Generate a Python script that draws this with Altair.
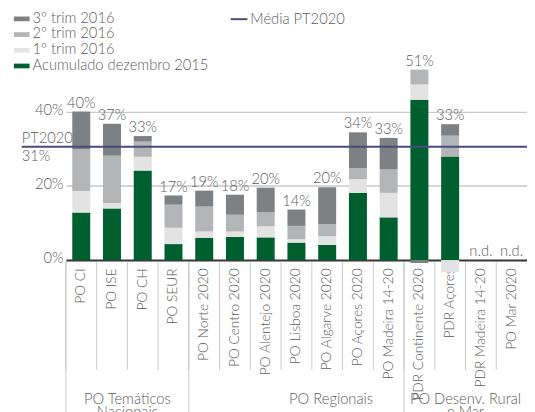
import altair as alt
import pandas as pd

categories = ["PO CI", "PO ISE", "PO CH", "PO SEUR", "PO Norte 2020", "PO Centro 2020",
              "PO Alentejo 2020", "PO Lisboa 2020", "PO Algarve 2020", "PO Açores 2020",
              "PO Madeira 14-20", "PDR Continente 2020", "PDR Açores", "PDR Madeira 14-20",
              "PO Mar 2020"]
acumulado = [12.8, 13.9, 24.1, 4.3, 6.0, 6.2, 6.1, 4.7, 4.1, 18.1, 11.5, 43.2, 27.9, 0, 0]
trim1 = [5.8, 1.4, 3.7, 4.4, 1.7, 1.5, 3.0, 0.9, 2.3, 3.7, 6.6, 4.1, -3.3, 0, 0]
trim2 = [11.2, 12.8, 4.1, 6.2, 6.7, 4.5, 3.8, 3.6, 3.3, 2.9, 6.3, 4.0, 5.6, 0, 0]
trim3 = [10.2, 8.6, 1.5, 2.5, 4.3, 5.4, 6.6, 4.4, 9.9, 9.7, 8.5, -0.8, 3.1, 0, 0]
total_labels = ["40%", "37%", "33%", "17%", "19%", "18%", "20%", "14%", "20%", "34%",
                "33%", "51%", "33%", "n.d.", "n.d."]
series_names = ["Acumulado dezembro 2015", "1º trim 2016", "2º trim 2016", "3º trim 2016"]
series_colors = ["#005f2f", "#e3e3e3", "#b3b5b7", "#7e8184"]
group_names = ["PO Temáticos\nNacionais", "PO Regionais", "PO Desenv. Rural\ne Mar"]
group_first = ["PO CI", "PO Norte 2020", "PDR Continente 2020"]
pt2020_avg = 30.5
pt2020_name = "Média PT2020"
pt2020_texts = ["PT2020", "31%"]

FONT = "Lato"
TXT = "#5c5c5c"
W, H = 470, 227
STEP = W / len(categories)
PI = 0.415
GAP = STEP * PI

rows = []
for i, c in enumerate(categories):
    for k, (s, vals) in enumerate(zip(series_names, [acumulado, trim1, trim2, trim3])):
        if vals[i] != 0:
            rows.append({"cat": c, "serie": s, "val": vals[i], "ord": k})
bars_df = pd.DataFrame(rows)

tops = []
for i, c in enumerate(categories):
    pos = sum(v for v in [acumulado[i], trim1[i], trim2[i], trim3[i]] if v > 0)
    tops.append({"cat": c, "top": pos, "lab": total_labels[i]})
tops_df = pd.DataFrame(tops)

cats_df = pd.DataFrame({"cat": categories})
grp_df = pd.DataFrame({"cat": group_first})
line_df = pd.DataFrame({"serie": [pt2020_name], "val": [pt2020_avg]})

xscale = alt.Scale(domain=categories, paddingInner=PI, paddingOuter=PI / 2)
yscale = alt.Scale(domain=[0, 60], nice=False)
X = alt.X("cat:N", scale=xscale, sort=categories,
          axis=alt.Axis(title=None, ticks=False, domain=True, domainColor="#3a3a3a",
                        domainWidth=2, labelAngle=-90, labelFontSize=14, labelFont=FONT,
                        labelColor=TXT, labelPadding=8, labelFontWeight=300, labelLimit=0))

bars = alt.Chart(bars_df).mark_bar().encode(
    x=X,
    y=alt.Y("val:Q", stack="zero", scale=yscale,
            axis=alt.Axis(title=None, values=[0, 20, 40], labelExpr="datum.value + '%'",
                          domain=False, ticks=False, grid=True, gridColor="#c9c9c9",
                          gridWidth=1.5, labelFontSize=15, labelFont=FONT, labelColor=TXT,
                          labelPadding=3, labelFontWeight=300, labelOffset=-2)),
    color=alt.Color("serie:N",
                    scale=alt.Scale(domain=series_names, range=series_colors),
                    sort=series_names[::-1],
                    legend=alt.Legend(title=None, orient="none", legendX=-53, legendY=-28,
                                      symbolType="M-1,-0.15H1V0.45H-1Z", symbolSize=256,
                                      symbolStrokeWidth=0, labelFontSize=15, labelFont=FONT,
                                      labelColor=TXT, labelFontWeight=300, rowPadding=-2,
                                      padding=0, labelOffset=3, labelLimit=0,
                                      values=series_names[::-1])),
    order=alt.Order("ord:Q", sort="ascending"),
)

seps = alt.Chart(cats_df).mark_rule(color="#c9c9c9", strokeWidth=1, xOffset=-GAP / 2).encode(
    x=alt.X("cat:N", scale=xscale, sort=categories, bandPosition=0),
    y=alt.value(H + 2), y2=alt.value(339),
)
gseps = alt.Chart(grp_df).mark_rule(color="#c9c9c9", strokeWidth=1, xOffset=-GAP / 2).encode(
    x=alt.X("cat:N", scale=xscale, sort=categories, bandPosition=0),
    y=alt.value(H + 2), y2=alt.value(420),
)

pt_line = alt.Chart(line_df).mark_rule(strokeWidth=2).encode(
    y=alt.Y("val:Q", scale=yscale),
    x=alt.value(-45), x2=alt.value(W),
    stroke=alt.Stroke("serie:N", scale=alt.Scale(domain=[pt2020_name], range=["#4b4a7c"]),
                      legend=alt.Legend(title=None, orient="none", legendX=167, legendY=-28,
                                        symbolType="stroke", symbolSize=289,
                                        symbolStrokeWidth=2, labelFontSize=15, labelFont=FONT,
                                        labelColor=TXT, labelFontWeight=300, padding=0,
                                        labelOffset=2, labelLimit=0)),
)
pt_txt1 = alt.Chart(line_df).mark_text(align="left", baseline="alphabetic", dy=-4, fontSize=15,
                                       font=FONT, color=TXT, fontWeight=300,
                                       text=pt2020_texts[0]).encode(
    y=alt.Y("val:Q", scale=yscale), x=alt.value(-45))
pt_txt2 = alt.Chart(line_df).mark_text(align="left", baseline="alphabetic", dy=14, fontSize=15,
                                       font=FONT, color=TXT, fontWeight=300,
                                       text=pt2020_texts[1]).encode(
    y=alt.Y("val:Q", scale=yscale), x=alt.value(-45))

labels = alt.Chart(tops_df).mark_text(baseline="alphabetic", dy=-4, fontSize=15, font=FONT,
                                      color=TXT, fontWeight=300).encode(
    x=alt.X("cat:N", scale=xscale, sort=categories),
    y=alt.Y("top:Q", scale=yscale),
    text="lab:N",
)

def group_label(name, anchor, off):
    d = pd.DataFrame({"cat": [anchor], "g": [name]})
    return alt.Chart(d).mark_text(baseline="alphabetic", fontSize=15, font=FONT, color=TXT,
                                  fontWeight=300, lineBreak="\n", lineHeight=13,
                                  xOffset=off).encode(
        x=alt.X("cat:N", scale=xscale, sort=categories),
        y=alt.value(374), text="g:N")

g1 = group_label(group_names[0], categories[1], STEP / 2)
g2 = group_label(group_names[1], categories[8], 4)
g3 = group_label(group_names[2], categories[12], STEP / 2)

chart = alt.layer(bars, seps, gseps, pt_line, pt_txt1, pt_txt2, labels, g1, g2, g3).resolve_scale(
    color="independent"
).properties(
    width=W, height=H,
    autosize=alt.AutoSizeParams(type="none"),
    padding={"left": 59, "top": 26, "right": 0, "bottom": 151},
).configure_view(stroke=None)

chart.save("out.html", embed_options={"renderer": "svg", "actions": False})
